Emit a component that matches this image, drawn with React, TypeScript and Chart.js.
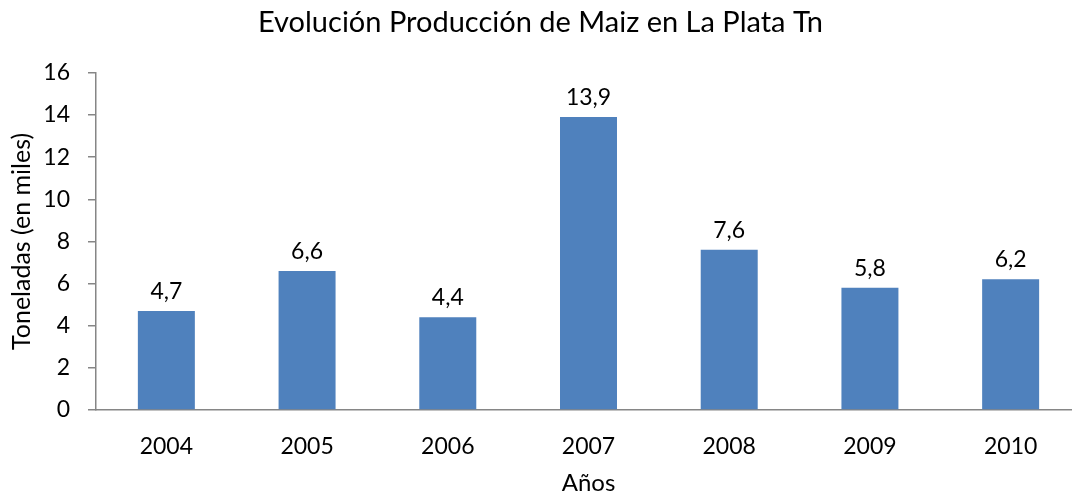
import React, { useEffect, useRef } from "react";
import { Chart, registerables } from "chart.js";

Chart.register(...registerables);

const categories = ["2004", "2005", "2006", "2007", "2008", "2009", "2010"];
const values = [4.7, 6.6, 4.4, 13.9, 7.6, 5.8, 6.2];
const yTicks = [0, 2, 4, 6, 8, 10, 12, 14, 16];

const FONT = "Lato, 'Open Sans', sans-serif";

const dataLabels = {
  id: "dataLabels",
  afterDatasetsDraw(chart: any) {
    const ctx = chart.ctx;
    const meta = chart.getDatasetMeta(0);
    ctx.save();
    ctx.font = `23px ${FONT}`;
    ctx.fillStyle = "#000";
    ctx.textAlign = "center";
    ctx.textBaseline = "alphabetic";
    meta.data.forEach((bar: any, i: number) => {
      const v = chart.data.datasets[0].data[i] as number;
      ctx.fillText(v.toFixed(1).replace(".", ","), bar.x, bar.y - 12);
    });
    ctx.restore();
  },
};

export default function App() {
  const ref = useRef<HTMLCanvasElement>(null);
  useEffect(() => {
    if (!ref.current) return;
    const chart = new Chart(ref.current, {
      type: "bar",
      data: {
        labels: categories,
        datasets: [
          {
            data: values,
            backgroundColor: "#4F81BD",
            categoryPercentage: 1,
            barPercentage: 0.405,
          },
        ],
      },
      options: {
        animation: false,
        responsive: true,
        maintainAspectRatio: false,
        layout: { padding: 0 },
        plugins: {
          legend: { display: false },
          tooltip: { enabled: false },
          title: {
            display: true,
            text: "Evolución Producción de Maiz en La Plata Tn",
            color: "#000",
            font: { family: FONT, size: 29, weight: "normal" },
            padding: { top: 5, bottom: 33 },
          },
        },
        scales: {
          x: {
            grid: { display: false, drawTicks: false },
            border: { display: true, color: "#868686", width: 1.5 },
            ticks: { color: "#000", font: { family: FONT, size: 23 }, padding: 23 },
            title: {
              display: true,
              text: "Años",
              color: "#000",
              font: { family: FONT, size: 24 },
              padding: { top: 0, bottom: 0 },
            },
            afterFit: (s: any) => {
              s.height = 88;
            },
          },
          y: {
            min: 0,
            max: 16,
            afterBuildTicks: (s: any) => {
              s.ticks = yTicks.map((v) => ({ value: v }));
            },
            grid: {
              display: true,
              drawOnChartArea: false,
              drawTicks: true,
              tickLength: 8,
              color: "#868686",
              lineWidth: 1.5,
            },
            border: { display: true, color: "#868686", width: 1.5 },
            ticks: { color: "#000", font: { family: FONT, size: 23 }, padding: 18 },
            title: {
              display: true,
              text: "Toneladas (en miles)",
              color: "#000",
              font: { family: FONT, size: 25 },
              padding: { top: 7, bottom: 0 },
            },
            afterFit: (s: any) => {
              s.width = 96;
            },
          },
        },
      },
      plugins: [dataLabels],
    });
    return () => chart.destroy();
  }, []);
  return (
    <div style={{ position: "fixed", left: 0, top: 0, width: 1081, height: 498, background: "#fff" }}>
      <canvas ref={ref} />
    </div>
  );
}
